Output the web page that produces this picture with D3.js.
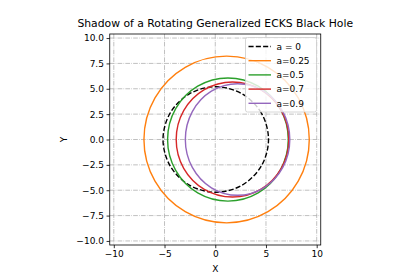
<!DOCTYPE html>
<html>
<head>
<meta charset="utf-8">
<script src="https://cdn.jsdelivr.net/npm/d3@7"></script>
<style>
  body { margin: 0; background: #fff; }
  text { font-family: "DejaVu Sans", sans-serif; }
</style>
</head>
<body>
<div id="chart"></div>
<script>
// spin values and labels
var spins = ["a = 0", "a=0.25", "a=0.5", "a=0.7", "a=0.9"];
var colors = ["#000000", "#ff7f0e", "#2ca02c", "#d62728", "#9467bd"];
var xTicks = [-10, -5, 0, 5, 10];
var yTicks = [-10, -7.5, -5, -2.5, 0, 2.5, 5, 7.5, 10];

// shadow outlines, [x, y] going round from the right side
var shadow0 = [[5.25,0],[4.55,2.6],[2.65,4.5],[0.05,5.2],[-2.55,4.5],[-4.45,2.6],
               [-5.15,0],[-4.45,-2.6],[-2.55,-4.5],[0.05,-5.2],[2.65,-4.5],[4.55,-2.6]];
var shadow25 = [[9.27,0],[8.18,4.11],[5.2,7.12],[1.12,8.22],[-2.96,7.12],[-5.94,4.11],
                [-7.03,0],[-5.94,-4.11],[-2.96,-7.12],[1.12,-8.22],[5.2,-7.12],[8.18,-4.11]];
var shadow5 = [[7.2,0],[6.4,3.04],[4.23,5.26],[1.25,6.07],[-1.73,5.26],[-3.9,3.04],
               [-4.7,0],[-3.9,-3.04],[-1.73,-5.26],[1.25,-6.07],[4.23,-5.26],[6.4,-3.04]];
var shadow7 = [[7.25,0],[6.51,2.84],[4.48,4.91],[1.7,5.67],[-1.08,4.91],[-3.11,2.84],
               [-3.85,0],[-3.11,-2.84],[-1.08,-4.91],[1.7,-5.67],[4.48,-4.91],[6.51,-2.84]];
var shadow9 = [[7.35,0],[6.66,2.75],[4.78,4.76],[2.2,5.5],[-0.38,4.76],[-2.26,2.75],
               [-2.95,0],[-2.26,-2.75],[-0.38,-4.76],[2.2,-5.5],[4.78,-4.76],[6.66,-2.75]];
var shadows = [shadow0, shadow25, shadow5, shadow7, shadow9];

var width = 420, height = 280;
var plotLeft = 109.75, plotTop = 34, size = 211;
var lim = 10.4;

var svg = d3.select("#chart").append("svg")
    .attr("width", width)
    .attr("height", height);

var x = d3.scaleLinear().domain([-lim, lim]).range([plotLeft, plotLeft + size]);
var y = d3.scaleLinear().domain([-lim, lim]).range([plotTop + size, plotTop]);

var minus = function(s){ return s.replace("-", "\u2212"); };

// grid
var grid = svg.append("g");
grid.selectAll("line.gx")
    .data(xTicks)
    .enter().append("line")
    .attr("x1", function(d){ return x(d); })
    .attr("x2", function(d){ return x(d); })
    .attr("y1", plotTop).attr("y2", plotTop + size)
    .attr("stroke", "#b0b0b0")
    .attr("stroke-width", 0.8)
    .attr("stroke-dasharray", "4.7,1.2,0.7,1.2");
grid.selectAll("line.gy")
    .data(yTicks)
    .enter().append("line")
    .attr("y1", function(d){ return y(d); })
    .attr("y2", function(d){ return y(d); })
    .attr("x1", plotLeft).attr("x2", plotLeft + size)
    .attr("stroke", "#b0b0b0")
    .attr("stroke-width", 0.8)
    .attr("stroke-dasharray", "4.7,1.2,0.7,1.2");

// shadow curves
var line = d3.line()
    .x(function(d){ return x(d[0]); })
    .y(function(d){ return y(d[1]); })
    .curve(d3.curveCatmullRomClosed);

svg.selectAll("path.shadow")
    .data(shadows)
    .enter().append("path")
    .attr("d", line)
    .attr("fill", "none")
    .attr("stroke", function(d, i){ return colors[i]; })
    .attr("stroke-width", 1.4)
    .attr("stroke-dasharray", function(d, i){ return i == 0 ? "5.1,2.2" : null; });

// axes
var xAxis = d3.axisBottom(x).tickValues(xTicks).tickSize(3.2).tickPadding(2.6)
    .tickFormat(function(d){ return minus(d3.format("d")(d)); });
var yAxis = d3.axisLeft(y).tickValues(yTicks).tickSize(3.2).tickPadding(2.6)
    .tickFormat(function(d){ return minus(d3.format(".1f")(d)); });

var gx = svg.append("g")
    .attr("transform", "translate(0," + (plotTop + size) + ")")
    .call(xAxis);
var gy = svg.append("g")
    .attr("transform", "translate(" + plotLeft + ",0)")
    .call(yAxis);
[gx, gy].forEach(function(g){
    g.select(".domain").remove();
    g.selectAll("line").attr("stroke", "#000").attr("stroke-width", 0.8);
    g.selectAll("text").attr("font-size", "9px").attr("fill", "#000")
        .attr("font-family", "DejaVu Sans");
});

// spines
svg.append("rect")
    .attr("x", plotLeft).attr("y", plotTop)
    .attr("width", size).attr("height", size)
    .attr("fill", "none")
    .attr("stroke", "#000")
    .attr("stroke-width", 0.8);

// legend
var legX = 245.5, legY = 37.5, rowH = 14.2;
var leg = svg.append("g");
leg.append("rect")
    .attr("x", legX).attr("y", legY)
    .attr("width", 71).attr("height", 74.5)
    .attr("rx", 2)
    .attr("fill", "#fff")
    .attr("fill-opacity", 0.8)
    .attr("stroke", "#cccccc")
    .attr("stroke-width", 0.8);

var rows = leg.selectAll("g.row")
    .data(spins)
    .enter().append("g")
    .attr("transform", function(d, i){ return "translate(0," + (legY + 9 + i * rowH) + ")"; });
rows.append("line")
    .attr("x1", legX + 3).attr("x2", legX + 25.5)
    .attr("y1", 0).attr("y2", 0)
    .attr("stroke", function(d, i){ return colors[i]; })
    .attr("stroke-width", 1.4)
    .attr("stroke-dasharray", function(d, i){ return i == 0 ? "5.1,2.2" : null; });
rows.append("text")
    .attr("x", legX + 31)
    .attr("y", 3.3)
    .attr("font-size", "9px")
    .text(function(d){ return d; });

// titles
svg.append("text")
    .attr("x", plotLeft + size / 2)
    .attr("y", 27)
    .attr("text-anchor", "middle")
    .attr("font-size", "10.8px")
    .text("Shadow of a Rotating Generalized ECKS Black Hole");

svg.append("text")
    .attr("x", plotLeft + size / 2)
    .attr("y", 272)
    .attr("text-anchor", "middle")
    .attr("font-size", "9px")
    .text("X");

svg.append("text")
    .attr("transform", "translate(66.5," + (plotTop + size / 2) + ") rotate(-90)")
    .attr("text-anchor", "middle")
    .attr("font-size", "9px")
    .text("Y");
</script>
</body>
</html>
